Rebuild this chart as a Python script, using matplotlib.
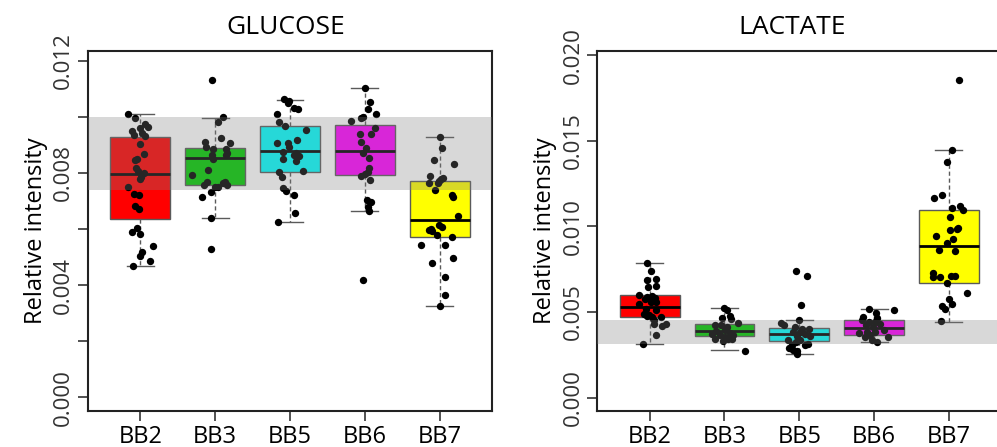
import numpy as np
import matplotlib
matplotlib.use('Agg')
import matplotlib.pyplot as plt

plt.rcParams['font.family'] = ['Open Sans', 'DejaVu Sans']

groups = ['BB2', 'BB3', 'BB5', 'BB6', 'BB7']
colors = ['#ff0000', '#00cd00', '#00ffff', '#ff00ff', '#ffff00']

# box statistics: q1, median, q3, whisker low, whisker high
glu_q1 = [0.00636, 0.00756, 0.00804, 0.00794, 0.00570]
glu_med = [0.00796, 0.00853, 0.00877, 0.00877, 0.00631]
glu_q3 = [0.00929, 0.00888, 0.00967, 0.00972, 0.00772]
glu_lo = [0.00467, 0.00638, 0.00626, 0.00664, 0.00325]
glu_hi = [0.01011, 0.00997, 0.01062, 0.01103, 0.00928]

lac_q1 = [0.00470, 0.00362, 0.00329, 0.00366, 0.00667]
lac_med = [0.00532, 0.00390, 0.00374, 0.00409, 0.00885]
lac_q3 = [0.00602, 0.00429, 0.00405, 0.00452, 0.01095]
lac_lo = [0.00316, 0.00277, 0.00257, 0.00323, 0.00442]
lac_hi = [0.00787, 0.00524, 0.00454, 0.00518, 0.01444]

# reference band
glu_band = (0.00738, 0.00998)
lac_band = (0.00313, 0.00452)

# individual samples (value, jitter offset)
glu_pts = {
    'BB2': [(0.01012, -0.169), (0.00995, -0.067), (0.00974, 0.067), (0.00965, 0.098), (0.00959, -0.009),
            (0.00950, -0.111), (0.00935, -0.089), (0.00941, 0.022), (0.00932, 0.067), (0.00903, -0.009),
            (0.00867, 0.053), (0.00846, -0.067), (0.00851, -0.044), (0.00816, -0.053), (0.00808, -0.036),
            (0.00801, 0.044), (0.00786, 0.009), (0.00777, 0.0), (0.00749, -0.169), (0.00725, -0.089),
            (0.00721, -0.013), (0.00682, -0.076), (0.00670, -0.013), (0.00602, -0.044), (0.00590, -0.111),
            (0.00582, -0.009), (0.00540, 0.164), (0.00519, 0.022), (0.00504, -0.009), (0.00486, 0.124),
            (0.00468, -0.098)],
    'BB3': [(0.00998, 0.098), (0.00983, 0.040), (0.00911, -0.138), (0.00893, -0.124), (0.00885, -0.027),
            (0.00864, -0.049), (0.00884, 0.138), (0.00870, 0.151), (0.00908, 0.204), (0.00923, 0.076),
            (0.00793, -0.316), (0.00810, -0.102), (0.00850, -0.027), (0.00864, 0.138), (0.00751, -0.004),
            (0.00749, 0.040), (0.00757, -0.151), (0.00769, -0.116), (0.00769, 0.129), (0.00757, 0.151),
            (0.00713, -0.182), (0.00731, -0.058), (0.00763, 0.107), (0.00638, -0.058), (0.00528, -0.058),
            (0.01132, -0.040)],
    'BB5': [(0.01063, -0.076), (0.01056, -0.009), (0.01048, -0.022), (0.01032, 0.053), (0.01028, 0.111),
            (0.01012, -0.178), (0.00983, -0.142), (0.00968, -0.067), (0.00953, 0.213), (0.00906, -0.178),
            (0.00906, -0.031), (0.00893, -0.009), (0.00917, 0.089), (0.00876, -0.098), (0.00870, 0.080),
            (0.00861, 0.124), (0.00864, 0.053), (0.00850, -0.089), (0.00842, 0.080), (0.00807, 0.178),
            (0.00804, -0.142), (0.00786, -0.111), (0.00745, -0.089), (0.00735, -0.053), (0.00721, 0.058),
            (0.00658, 0.067), (0.00626, -0.164)],
    'BB6': [(0.01102, -0.004), (0.01052, 0.071), (0.01027, 0.040), (0.01012, 0.151), (0.01000, -0.018),
            (0.00995, -0.049), (0.00985, -0.191), (0.00961, 0.142), (0.00938, -0.062), (0.00938, 0.084),
            (0.00909, -0.058), (0.00888, 0.018), (0.00870, -0.027), (0.00854, 0.053), (0.00816, 0.053),
            (0.00802, 0.040), (0.00795, -0.004), (0.00790, -0.058), (0.00775, 0.071), (0.00703, 0.027),
            (0.00697, 0.084), (0.00680, 0.040), (0.00664, 0.053), (0.00418, -0.027)],
    'BB7': [(0.00927, 0.004), (0.00890, 0.031), (0.00846, -0.071), (0.00832, 0.196), (0.00790, -0.129),
            (0.00766, -0.147), (0.00771, -0.013), (0.00778, 0.018), (0.00783, 0.049), (0.00763, -0.027),
            (0.00739, -0.058), (0.00721, 0.164), (0.00714, 0.182), (0.00647, 0.240), (0.00596, -0.147),
            (0.00593, -0.102), (0.00600, -0.116), (0.00614, -0.004), (0.00608, 0.031), (0.00579, -0.040),
            (0.00570, 0.164), (0.00543, -0.249), (0.00543, 0.071), (0.00480, -0.107), (0.00496, 0.173),
            (0.00428, 0.071), (0.00365, 0.071), (0.00325, 0.004)],
}

lac_pts = {
    'BB2': [(0.00789, -0.031), (0.00739, 0.013), (0.00686, -0.031), (0.00692, 0.080), (0.00647, -0.018),
            (0.00653, 0.080), (0.00588, -0.031), (0.00602, -0.142), (0.00579, -0.062), (0.00582, -0.009),
            (0.00594, 0.036), (0.00582, 0.071), (0.00550, -0.142), (0.00559, 0.013), (0.00559, 0.080),
            (0.00520, -0.053), (0.00511, 0.080), (0.00491, -0.076), (0.00477, -0.031), (0.00485, -0.009),
            (0.00471, 0.036), (0.00471, 0.147), (0.00452, 0.058), (0.00433, 0.058), (0.00433, 0.213),
            (0.00419, 0.169), (0.00364, 0.089), (0.00316, -0.084)],
    'BB3': [(0.00524, -0.004), (0.00511, 0.027), (0.00477, 0.071), (0.00462, 0.084), (0.00466, -0.031),
            (0.00423, -0.129), (0.00423, -0.040), (0.00413, 0.027), (0.00439, 0.182), (0.00388, -0.107),
            (0.00394, 0.004), (0.00380, 0.071), (0.00374, -0.173), (0.00368, -0.062), (0.00368, 0.116),
            (0.00345, -0.129), (0.00354, 0.004), (0.00345, 0.049), (0.00329, -0.018), (0.00345, 0.102),
            (0.00275, 0.271)],
    'BB5': [(0.00741, -0.044), (0.00711, 0.098), (0.00544, 0.018), (0.00436, -0.249), (0.00452, 0.0),
            (0.00423, -0.204), (0.00413, -0.058), (0.00403, 0.031), (0.00403, 0.133), (0.00384, -0.080),
            (0.00384, 0.009), (0.00374, 0.076), (0.00358, -0.027), (0.00358, 0.142), (0.00335, -0.147),
            (0.00335, 0.009), (0.00325, -0.044), (0.00306, -0.102), (0.00306, 0.076), (0.00316, 0.120),
            (0.00292, -0.133), (0.00281, -0.080), (0.00273, -0.036), (0.00257, -0.027)],
    'BB6': [(0.00520, -0.062), (0.00511, 0.267), (0.00495, 0.027), (0.00471, -0.142), (0.00456, -0.164),
            (0.00468, 0.044), (0.00442, -0.062), (0.00442, 0.013), (0.00423, -0.107), (0.00413, -0.018),
            (0.00433, 0.080), (0.00378, -0.196), (0.00384, -0.098), (0.00384, 0.013), (0.00364, -0.053),
            (0.00394, 0.133), (0.00354, 0.191), (0.00335, -0.031), (0.00325, 0.036), (0.00354, -0.120)],
    'BB7': [(0.01856, 0.133), (0.01446, 0.036), (0.01378, -0.031), (0.01167, -0.200), (0.01183, -0.089),
            (0.01119, 0.147), (0.01099, 0.182), (0.01105, 0.044), (0.01056, 0.013), (0.00988, 0.102),
            (0.00994, 0.124), (0.00982, 0.013), (0.00943, -0.173), (0.00924, 0.049), (0.00904, -0.022),
            (0.00865, -0.133), (0.00857, 0.080), (0.00729, -0.218), (0.00705, -0.218), (0.00705, -0.120),
            (0.00709, 0.022), (0.00711, 0.080), (0.00667, -0.031), (0.00614, 0.244), (0.00579, 0.004),
            (0.00534, -0.098), (0.00520, -0.053), (0.00546, 0.044), (0.00448, -0.111)],
}


def panel(ax, title, q1, med, q3, lo, hi, pts, band, ylim, ticks, labels, title_x):
    stats = []
    for i in range(len(groups)):
        stats.append({'q1': q1[i], 'med': med[i], 'q3': q3[i],
                      'whislo': lo[i], 'whishi': hi[i], 'fliers': []})
    pos = np.arange(1, len(groups) + 1)
    bp = ax.bxp(stats, positions=pos, widths=0.8, capwidths=0.36,
                showfliers=False, patch_artist=True,
                boxprops=dict(edgecolor='#5a5a5a', linewidth=1.0),
                medianprops=dict(color='black', linewidth=2.0),
                whiskerprops=dict(color='#5a5a5a', linewidth=1.0, linestyle=(0, (3, 2))),
                capprops=dict(color='#5a5a5a', linewidth=1.0))
    for patch, c in zip(bp['boxes'], colors):
        patch.set_facecolor(c)
        patch.set_zorder(2)

    for i, g in enumerate(groups):
        vals = np.array([p[0] for p in pts[g]])
        off = np.array([p[1] for p in pts[g]])
        ax.scatter(pos[i] + off, vals, s=28, color='black', zorder=3, linewidths=0)

    ax.axhspan(band[0], band[1], color='#808080', alpha=0.3, lw=0, zorder=4)

    ax.set_xlim(0.3, 5.7)
    ax.set_ylim(*ylim)
    ax.set_xticks(pos)
    ax.set_xticklabels(groups, fontsize=17)
    ax.set_yticks(ticks)
    ax.set_yticklabels(labels, fontsize=16, rotation=90, va='center', color='#333333')
    ax.tick_params(axis='both', length=7, width=1.2, color='#333333')
    ax.tick_params(axis='x', pad=3)
    ax.tick_params(axis='y', pad=3)
    ax.set_ylabel('Relative intensity', fontsize=17, labelpad=4)
    ax.set_title(title, fontsize=19, x=title_x, pad=12)
    for s in ax.spines.values():
        s.set_linewidth(1.5)
        s.set_color('#222222')


fig = plt.figure(figsize=(9.97, 4.47), dpi=100)
ax1 = fig.add_axes([0.0883, 0.0805, 0.4052, 0.8054])
ax2 = fig.add_axes([0.5991, 0.0805, 0.4052, 0.8054])

glu_ticks = [0.000, 0.002, 0.004, 0.006, 0.008, 0.010, 0.012]
glu_labels = ['0.000', '', '0.004', '', '0.008', '', '0.012']
lac_ticks = [0.000, 0.005, 0.010, 0.015, 0.020]
lac_labels = ['0.000', '0.005', '0.010', '0.015', '0.020']

panel(ax1, 'GLUCOSE', glu_q1, glu_med, glu_q3, glu_lo, glu_hi, glu_pts, glu_band,
      (-0.00049, 0.01235), glu_ticks, glu_labels, 0.49)
panel(ax2, 'LACTATE', lac_q1, lac_med, lac_q3, lac_lo, lac_hi, lac_pts, lac_band,
      (-0.00078, 0.02025), lac_ticks, lac_labels, 0.482)

fig.savefig('out.png', dpi=100)
